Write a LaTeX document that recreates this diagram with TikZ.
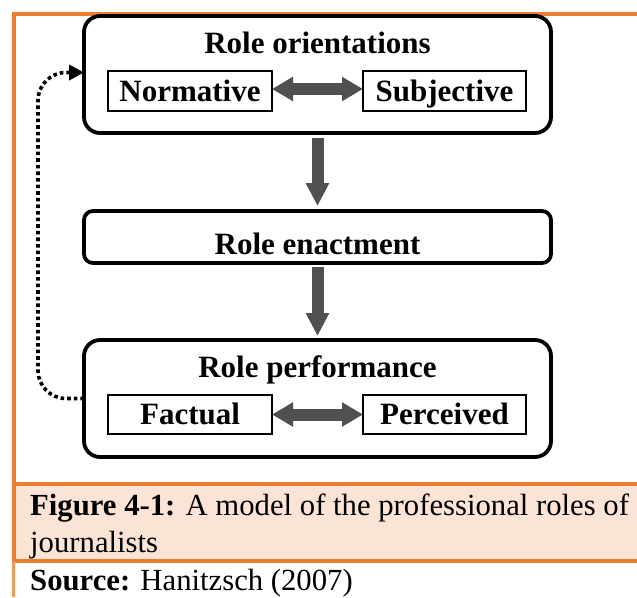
\documentclass[tikz,border=0pt]{standalone}
\usepackage{fontspec}
\setmainfont{Liberation Serif}
\usepackage{tikz}
\usetikzlibrary{arrows.meta}

\definecolor{cornice}{HTML}{ED7D31}
\definecolor{pesca}{HTML}{FBE4D5}
\definecolor{grigiofreccia}{HTML}{505050}

\begin{document}
\begin{tikzpicture}[x=1pt, y=-1pt,
		bigbox/.style={draw, line width=3.8pt, rounded corners=16pt, minimum width=467pt, minimum height=117pt, outer sep=0pt, inner sep=0pt},
		smallbox/.style={draw, line width=1.5pt, minimum width=163pt, minimum height=39pt, outer sep=0pt, inner sep=0pt, text height=21pt, text depth=1pt, font=\bfseries\fontsize{31}{36}\selectfont},
		boxlabel/.style={anchor=base, inner sep=0pt, font=\bfseries\fontsize{31}{36}\selectfont},
		flowarrow/.style={grigiofreccia, line width=12pt, -{Triangle[width=22pt, length=23pt]}},
		twowayarrow/.style={grigiofreccia, line width=12pt, {Triangle[width=23pt, length=21pt]}-{Triangle[width=23pt, length=21pt]}},
		feedback/.style={line width=3.6pt, dash pattern=on 3.6pt off 3pt, rounded corners=28pt, -{Triangle[width=15pt, length=15pt]}},
		captext/.style={anchor=base west, inner sep=0pt, font=\fontsize{30.7}{37}\selectfont}
	]
	\useasboundingbox (0,0) rectangle (637,597);
	
	% Cornice arancione e fascia della didascalia
	\fill[pesca] (13.5,484) rectangle (637,561);
	\draw[cornice, line width=4pt] (12,13.5) -- (637,13.5);
	\draw[cornice, line width=4pt] (13.5,12) -- (13.5,561);
	\draw[cornice, line width=4pt] (12,484) -- (637,484);
	\draw[cornice, line width=4pt] (12,561) -- (637,561);
	\draw[cornice!80, line width=3pt] (13,561) -- (13,597);
	
	% Tre blocchi principali
	\node[bigbox] (orient) at (317.5,74.5) {};
	\node[bigbox, minimum height=52pt, rounded corners=9pt] (enact) at (317.5,237) {};
	\node[bigbox] (perf) at (317.5,398.5) {};
	
	\node[boxlabel] (orientLabel) at (317.5,53) {Role orientations};
	\node[boxlabel] (enactLabel) at (317.5,254) {Role enactment};
	\node[boxlabel] (perfLabel) at (317.5,377) {Role performance};
	
	% Riquadri interni
	\node[smallbox, minimum width=164pt, minimum height=40pt] (norm) at (190,91) {Normative};
	\node[smallbox, minimum height=40pt] (subj) at (444.5,91) {Subjective};
	\node[smallbox, minimum width=164pt] (fact) at (190,414.5) {Factual};
	\node[smallbox] (perc) at (444.5,414.5) {Perceived};
	
	% Frecce
	\draw[twowayarrow] ([yshift=2pt]norm.east) -- ([yshift=2pt]subj.west);
	\draw[twowayarrow] (fact.east) -- (perc.west);
	\draw[flowarrow, shorten <=5pt, shorten >=5pt] (orient.south) -- (enact.north);
	\draw[flowarrow, shorten <=4pt, shorten >=4pt] (enact.south) -- (perf.north);
	\draw[feedback] (perf.west) -- ++(-46,0) |- ([yshift=2pt]orient.west);
	
	% Didascalia
	\node[captext] (cap1) at (30,515) {\textbf{Figure 4-1:} A model of the professional roles of};
	\node[captext] (cap2) at (30,552) {journalists};
	\node[captext] (source) at (30,590) {\textbf{Source:} Hanitzsch (2007)};
\end{tikzpicture}
\end{document}
